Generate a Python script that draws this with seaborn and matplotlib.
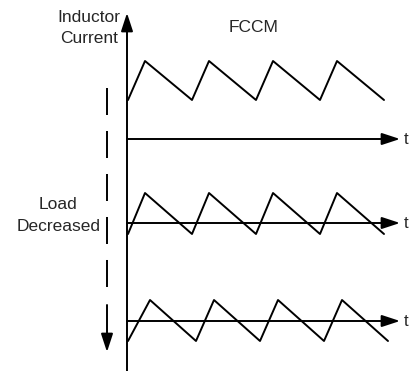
import pandas as pd
import matplotlib.pyplot as plt
import seaborn as sns

# schematic waveforms, coordinates in picture units (y grows downwards)
fccm_t = [128, 145, 192, 209, 256, 273, 320, 337, 384]
fccm_i = [100, 61, 100, 61, 100, 61, 100, 61, 100]

mid_t = [128, 145, 192, 209, 256, 273, 320, 337, 384]
mid_i = [234, 193, 234, 193, 234, 193, 234, 193, 234]

low_t = [128, 150, 196, 214, 260, 278, 324, 342, 388]
low_i = [341, 300, 341, 300, 341, 300, 341, 300, 341]

time_axes = [139, 223, 321]
y_label = ["Inductor", "Current"]
side_label = ["Load", "Decreased"]
title = "FCCM"

sns.set_theme(style="white")
plt.rcParams['font.family'] = ['Liberation Sans', 'DejaVu Sans']

waves = pd.concat([
    pd.DataFrame({'t': fccm_t, 'i': fccm_i, 'trace': 'fccm'}),
    pd.DataFrame({'t': mid_t, 'i': mid_i, 'trace': 'mid'}),
    pd.DataFrame({'t': low_t, 'i': low_i, 'trace': 'low'}),
])

fig = plt.figure(figsize=(4.09, 3.71), dpi=100)
ax = fig.add_axes([0, 0, 1, 1])

sns.lineplot(data=waves, x='t', y='i', units='trace', estimator=None,
             sort=False, color='black', linewidth=1.4, ax=ax)

head = '-|>,head_length=1.1,head_width=0.36'
arrow = dict(arrowstyle=head, color='black', lw=1.4,
             shrinkA=0, shrinkB=0, mutation_scale=10)

# current axis
ax.annotate('', xy=(127, 13), xytext=(127, 371), arrowprops=arrow)

# time axes
for y in time_axes:
    ax.annotate('', xy=(400, y), xytext=(127, y), arrowprops=arrow)
    ax.text(404, y, 't', ha='left', va='center', fontsize=12)

# dashed "load decreased" arrow
ax.plot([107, 107], [88, 300], color='black', lw=1.4,
        dashes=(27 / 1.389 / 1.4, 16 / 1.389 / 1.4))
ax.annotate('', xy=(107, 352), xytext=(107, 305), arrowprops=arrow)

ax.text(89, 21.7, y_label[0], ha='center', va='baseline', fontsize=12.5)
ax.text(89, 42.7, y_label[1], ha='center', va='baseline', fontsize=12.5)
ax.text(254, 31.7, title, ha='center', va='baseline', fontsize=12.5)
ax.text(58.5, 209, side_label[0], ha='center', va='baseline', fontsize=12.5)
ax.text(58.5, 231, side_label[1], ha='center', va='baseline', fontsize=12.5)

ax.set_xlim(0, 409)
ax.set_ylim(371, 0)
ax.axis('off')

fig.savefig('out.png', dpi=100)
